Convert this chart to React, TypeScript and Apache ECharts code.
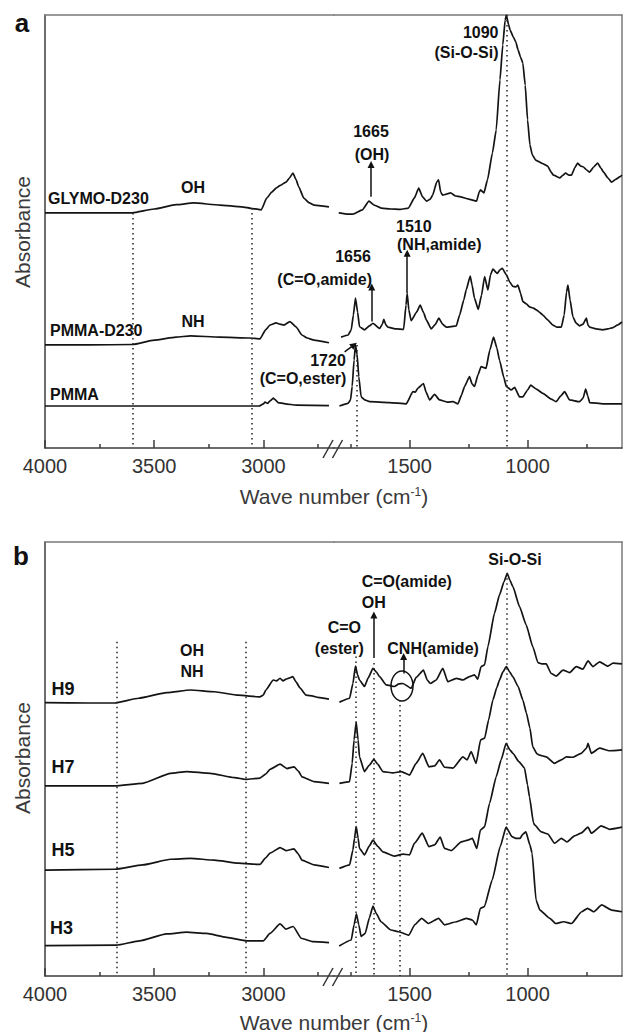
import React, { useEffect, useRef } from 'react';
import * as echarts from 'echarts';

type P = [number, number];

// ---------- Panel a (absorbance, arbitrary units 0-100, spectra offset) ----------
const glymoLeft: P[] = [[4000,54.3],[3800,54.3],[3600,54.3],[3500,55.2],[3400,56.2],[3320,56.6],[3200,56.1],[3100,55.7],[3050,55.3],[3010,55.0],[2985,57.7],[2962,59.1],[2942,60.0],[2925,60.6],[2897,61.4],[2880,62.4],[2865,63.5],[2850,61.9],[2840,60.5],[2815,57.7],[2790,56.6],[2768,56.1],[2700,55.7]];
const glymoRight: P[] = [[1800,54.3],[1760,54.0],[1740,54.0],[1700,55.0],[1672,57.0],[1650,56.1],[1620,55.4],[1580,55.2],[1540,55.1],[1505,55.4],[1480,57.7],[1461,60.0],[1445,58.0],[1428,57.0],[1412,57.5],[1402,58.4],[1385,61.4],[1377,61.9],[1368,59.1],[1360,58.4],[1340,58.7],[1326,58.9],[1305,58.2],[1284,58.0],[1250,57.5],[1216,57.0],[1205,59.1],[1199,59.6],[1185,58.9],[1170,61.9],[1149,68.1],[1133,73.4],[1117,85.0],[1105,93.1],[1095,98.8],[1090,100],[1080,97.7],[1074,96.5],[1060,94.9],[1050,93.8],[1040,91.9],[1030,90.3],[1020,88.9],[1010,83.8],[1000,75.8],[990,70.0],[980,67.7],[966,66.5],[950,66.1],[941,65.8],[915,65.1],[900,63.7],[890,63.0],[864,62.4],[850,63.0],[839,63.5],[825,63.0],[814,63.0],[800,64.7],[788,65.8],[775,65.1],[763,64.9],[750,64.2],[737,63.7],[720,64.9],[703,65.8],[690,64.7],[678,63.7],[660,62.4],[644,61.4],[625,62.1],[610,62.6],[600,63.0]];
const pmmaD230Left: P[] = [[4000,23.8],[3800,23.8],[3600,23.9],[3500,24.9],[3400,25.6],[3334,25.9],[3200,25.6],[3064,25.4],[3016,25.2],[2990,27.3],[2970,28.4],[2942,28.9],[2925,28.6],[2906,28.4],[2879,29.2],[2851,28.0],[2824,26.1],[2800,25.4],[2768,24.9],[2700,24.3]];
const pmmaD230Right: P[] = [[1790,25.6],[1760,26.1],[1747,27.3],[1738,30.7],[1729,34.6],[1720,31.4],[1712,28.0],[1691,27.3],[1670,28.2],[1655,28.8],[1627,27.6],[1615,28.6],[1609,29.7],[1600,28.4],[1592,27.9],[1556,27.5],[1525,27.4],[1515,33.0],[1510,35.7],[1503,31.9],[1493,29.4],[1470,31.4],[1455,33.0],[1440,31.2],[1429,29.6],[1408,27.5],[1390,28.6],[1376,30.0],[1360,28.6],[1345,27.9],[1302,28.2],[1288,30.7],[1270,34.2],[1260,36.5],[1243,39.7],[1235,37.6],[1225,34.6],[1209,32.0],[1195,35.3],[1182,39.6],[1168,36.5],[1157,40.0],[1147,41.3],[1128,40.3],[1118,41.1],[1107,41.5],[1090,40.0],[1075,38.3],[1062,37.3],[1050,37.2],[1041,37.6],[1030,35.8],[1020,33.8],[1005,33.3],[992,32.6],[975,32.3],[963,31.9],[950,31.4],[935,30.7],[915,29.6],[893,28.4],[875,27.9],[857,27.9],[845,30.7],[835,36.0],[829,37.6],[820,34.2],[808,30.3],[795,28.9],[780,28.2],[765,28.6],[751,30.0],[744,28.4],[737,27.9],[710,27.5],[681,27.3],[660,27.5],[638,27.8],[620,28.4],[600,29.1]];
const pmmaLeft: P[] = [[4000,9.7],[3500,9.7],[3020,9.7],[3000,10.2],[2993,10.6],[2980,10.3],[2970,10.9],[2955,11.5],[2945,11.1],[2933,10.5],[2900,10.2],[2850,9.9],[2700,9.8]];
const pmmaRight: P[] = [[1797,9.7],[1761,10.3],[1750,11.1],[1743,14.2],[1735,20.3],[1729,23.8],[1722,21.5],[1715,16.5],[1705,11.8],[1690,11.1],[1669,10.7],[1585,10.5],[1514,10.2],[1486,13.0],[1475,12.9],[1465,13.8],[1441,14.9],[1430,12.9],[1415,11.1],[1394,12.4],[1373,11.1],[1340,10.6],[1316,10.7],[1295,10.2],[1280,12.2],[1267,14.2],[1246,16.5],[1235,14.8],[1225,14.2],[1210,16.9],[1197,18.8],[1176,18.4],[1160,22.6],[1144,25.6],[1130,23.1],[1119,20.3],[1100,16.2],[1090,14.2],[1069,13.4],[1055,14.0],[1034,11.8],[1020,11.8],[1000,13.4],[987,14.5],[963,13.6],[935,12.6],[900,11.3],[879,10.7],[860,12.0],[843,13.0],[822,11.1],[780,10.7],[765,11.5],[754,13.6],[745,12.0],[737,10.5],[681,10.2],[600,10.2]];

// ---------- Panel b ----------
const h9Left: P[] = [[4000,63.0],[3800,62.9],[3681,62.9],[3571,64.0],[3443,65.3],[3334,65.9],[3225,65.5],[3115,64.7],[3016,64.3],[3001,64.7],[2989,65.9],[2955,68.2],[2940,68.0],[2924,68.6],[2910,68.0],[2897,68.4],[2880,68.7],[2866,69.0],[2850,67.7],[2833,66.4],[2805,64.7],[2773,64.5],[2751,64.2],[2700,63.8]];
const h9Right: P[] = [[1797,63.1],[1754,64.0],[1740,67.4],[1729,71.4],[1720,69.4],[1712,68.2],[1691,66.7],[1675,68.7],[1655,70.9],[1640,70.0],[1627,69.0],[1599,67.1],[1564,66.7],[1545,67.3],[1528,67.4],[1493,66.3],[1472,68.8],[1441,70.5],[1425,68.2],[1412,67.4],[1387,68.2],[1359,70.9],[1338,67.8],[1302,68.6],[1274,68.2],[1246,69.0],[1225,69.4],[1211,68.4],[1197,71.3],[1182,71.7],[1168,75.9],[1140,83.6],[1119,87.8],[1100,90.8],[1086,92.8],[1075,91.2],[1062,89.7],[1034,85.1],[1006,80.9],[978,75.9],[956,72.2],[940,71.9],[921,71.9],[900,69.7],[879,69.1],[850,70.5],[822,69.9],[794,71.3],[766,70.7],[744,72.6],[723,71.3],[695,72.4],[660,71.4],[638,72.1],[600,71.9]];
const h7Left: P[] = [[4000,43.8],[3680,43.8],[3553,44.4],[3425,46.7],[3352,47.1],[3243,46.7],[3133,45.7],[3080,45.3],[3016,45.6],[2990,46.5],[2970,47.6],[2924,48.8],[2892,47.8],[2860,48.2],[2840,47.2],[2824,45.9],[2768,44.8],[2700,44.4]];
const h7Right: P[] = [[1797,44.4],[1754,44.8],[1743,49.0],[1735,54.4],[1726,58.5],[1718,54.4],[1712,50.5],[1691,47.1],[1670,48.6],[1651,49.9],[1635,48.8],[1613,47.1],[1571,46.8],[1535,47.1],[1500,46.3],[1472,49.0],[1444,51.3],[1418,48.2],[1394,48.4],[1373,49.8],[1352,48.1],[1316,47.9],[1274,50.5],[1256,49.8],[1239,51.7],[1218,49.0],[1199,54.4],[1182,54.8],[1165,59.0],[1147,63.6],[1130,66.5],[1119,68.2],[1105,70.0],[1090,71.3],[1075,70.0],[1062,68.9],[1040,66.7],[1020,63.6],[1005,60.6],[990,57.1],[978,52.8],[960,51.2],[949,50.9],[921,50.5],[886,49.0],[857,49.8],[836,50.5],[808,50.4],[773,51.3],[750,52.5],[744,53.6],[730,51.3],[695,52.5],[653,51.9],[600,52.1]];
const h5Left: P[] = [[4000,24.4],[3681,24.6],[3553,25.6],[3425,26.9],[3334,27.1],[3225,26.7],[3115,26.0],[3016,25.7],[2990,27.2],[2970,28.3],[2924,29.6],[2897,28.9],[2860,29.3],[2840,28.1],[2824,26.7],[2768,25.6],[2700,25.0]];
const h5Right: P[] = [[1797,24.8],[1754,25.6],[1740,29.0],[1733,31.8],[1726,34.4],[1718,31.8],[1712,29.4],[1691,27.9],[1670,30.0],[1655,31.3],[1635,29.9],[1613,28.6],[1564,27.6],[1528,28.1],[1500,27.9],[1479,30.6],[1446,32.9],[1418,29.8],[1394,30.2],[1370,32.0],[1352,29.4],[1323,28.9],[1281,30.9],[1253,31.3],[1234,31.7],[1215,29.4],[1200,33.6],[1182,34.4],[1161,39.8],[1133,45.9],[1112,49.8],[1091,53.6],[1075,52.1],[1062,51.3],[1037,49.4],[1013,47.9],[1000,44.0],[992,41.3],[975,35.3],[970,34.8],[942,33.2],[914,32.7],[886,30.6],[857,31.7],[833,30.9],[801,32.3],[773,32.9],[744,34.3],[730,32.9],[688,34.6],[653,33.8],[600,34.3]];
const h3Left: P[] = [[4000,7.0],[3673,7.1],[3567,8.1],[3444,9.7],[3352,10.1],[3261,9.8],[3169,8.9],[3077,8.1],[3001,8.1],[2970,9.8],[2924,12.0],[2897,10.8],[2864,11.4],[2827,8.7],[2773,7.9],[2700,7.7]];
const h3Right: P[] = [[1798,6.9],[1747,8.3],[1735,11.8],[1725,14.3],[1715,11.8],[1705,9.1],[1688,9.8],[1670,13.4],[1655,16.1],[1640,14.3],[1621,12.5],[1579,10.6],[1545,10.2],[1503,9.4],[1478,11.8],[1449,13.3],[1420,12.1],[1377,13.3],[1352,11.8],[1301,12.5],[1260,13.3],[1234,12.9],[1217,11.8],[1200,15.6],[1183,16.0],[1150,22.1],[1116,29.8],[1091,34.3],[1066,32.1],[1050,31.7],[1032,31.7],[1020,32.7],[1007,33.2],[990,30.2],[981,28.3],[964,17.5],[948,15.2],[906,13.3],[881,12.1],[847,12.5],[814,12.1],[771,14.8],[746,15.6],[720,14.8],[686,16.4],[644,15.2],[600,14.8]];

// dotted guide lines: [wavenumber, top value]
const dottedLeftA: P[] = [[3600, 54.3], [3055, 55.4]];
const dottedRightA: P[] = [[1090, 100], [1722, 23.8]];
const dottedLeftB: P[] = [[3670, 77], [3080, 77]];
const dottedRightB: P[] = [[1727, 73.6], [1653, 72.1], [1542, 63.6], [1088, 92.8]];
// arrows: [w1, v1, w2, v2] (from -> to)
const arrowsA: number[][] = [[1663, 58, 1663, 65.5], [1660, 29.2, 1660, 37.2], [1510, 35.8, 1510, 45], [1775, 22.2, 1735, 23.8]];
const arrowsB: number[][] = [[1651, 73.3, 1651, 83.2], [1525, 69.7, 1525, 73.6]];

// axes
const leftRange: P = [2677, 4000];
const rightRange: P = [600, 1820];
const leftMajor = [4000, 3500, 3000];
const leftMinor = [3750, 3250, 2750];
const rightMajor = [1500, 1000];
const rightMinor = [1750, 1250, 750];

const FONT = '"Liberation Sans", Arial, Helvetica, sans-serif';
const LINE = '#141414';
const AXIS = '#3c3c3c';
const FRAME = '#7a7a7a';

export default function App() {
  const ref = useRef<HTMLDivElement>(null);
  useEffect(() => {
    if (!ref.current) return;
    const chart = echarts.init(ref.current, undefined, { renderer: 'svg' });

    const grids = [
      { left: 45, top: 15, width: 289, height: 433 },
      { left: 334, top: 15, width: 288, height: 433 },
      { left: 45, top: 542, width: 289, height: 434 },
      { left: 334, top: 542, width: 288, height: 434 },
    ];
    const xAxes: any[] = [];
    grids.forEach((_, gi) => {
      const isLeft = gi % 2 === 0;
      const range = isLeft ? leftRange : rightRange;
      const major = isLeft ? leftMajor : rightMajor;
      const minor = isLeft ? leftMinor : rightMinor;
      const base = { type: 'value', gridIndex: gi, min: range[0], max: range[1], inverse: true, splitLine: { show: false } };
      xAxes.push({
        ...base, position: 'bottom',
        axisLine: { show: true, onZero: false, lineStyle: { color: AXIS, width: 1.5 } },
        axisTick: { show: true, inside: true, length: 8, customValues: major, lineStyle: { color: AXIS, width: 1.5 } },
        axisLabel: { show: true, customValues: major, margin: 8, fontSize: 20, fontFamily: FONT, color: '#333', formatter: (v: number) => String(v) },
      });
      xAxes.push({
        ...base, position: 'bottom',
        axisLine: { show: false, onZero: false },
        axisTick: { show: true, inside: true, length: 4, customValues: minor, lineStyle: { color: AXIS, width: 1.5 } },
        axisLabel: { show: false },
      });
      xAxes.push({
        ...base, position: 'top',
        axisLine: { show: true, onZero: false, lineStyle: { color: FRAME, width: 1.5 } },
        axisTick: { show: false }, axisLabel: { show: false },
      });
    });
    const yAxes = grids.map((_, gi) => ({
      type: 'value', gridIndex: gi, min: 0, max: 100,
      position: gi % 2 === 0 ? 'left' : 'right',
      axisLine: { show: true, onZero: false, lineStyle: { color: gi % 2 === 0 ? AXIS : FRAME, width: 1.5 } },
      axisTick: { show: false }, axisLabel: { show: false }, splitLine: { show: false },
    }));

    const dotted = (items: P[]) => ({
      silent: true, symbol: ['none', 'none'], label: { show: false }, emphasis: { disabled: true },
      lineStyle: { color: '#222', width: 1.5, type: [1.5, 3.5] },
      data: items.map(([w, t]) => [{ coord: [w, t] }, { coord: [w, 0] }]),
    });
    const arrows = (items: number[][]) => ({
      silent: true, symbol: ['none', 'triangle'], symbolSize: 7, symbolOffset: 0,
      label: { show: false }, emphasis: { disabled: true },
      lineStyle: { color: '#111', width: 1.5, type: 'solid' },
      itemStyle: { color: '#111' },
      data: items.map(([a, b, c, d]) => [{ coord: [a, b] }, { coord: [c, d] }]),
    });
    const line = (data: P[], gi: number, markLine?: any) => ({
      type: 'line', xAxisIndex: gi * 3, yAxisIndex: gi, data, showSymbol: false, symbol: 'none',
      smooth: 0.15, smoothMonotone: 'x', silent: true,
      lineStyle: { color: LINE, width: 1.7 }, emphasis: { disabled: true },
      ...(markLine ? { markLine } : {}),
    });

    const series = [
      line(glymoLeft, 0, dotted(dottedLeftA)),
      line(pmmaD230Left, 0),
      line(pmmaLeft, 0),
      line(glymoRight, 1, dotted(dottedRightA)),
      line(pmmaD230Right, 1, arrows(arrowsA)),
      line(pmmaRight, 1),
      line(h9Left, 2, dotted(dottedLeftB)),
      line(h7Left, 2),
      line(h5Left, 2),
      line(h3Left, 2),
      line(h9Right, 3, dotted(dottedRightB)),
      line(h7Right, 3, arrows(arrowsB)),
      line(h5Right, 3),
      line(h3Right, 3),
    ];

    const txt = (text: string, x: number, y: number, align = 'left', size = 16, weight: any = 'bold', color = '#111') => ({
      type: 'text', x, y, silent: true,
      style: { text, fill: color, fontSize: size, fontWeight: weight, fontFamily: FONT, align, verticalAlign: 'middle' },
    });
    const brk = (y: number) => [
      { type: 'line', silent: true, shape: { x1: 323, y1: y + 10, x2: 333, y2: y - 8 }, style: { stroke: '#333', lineWidth: 1.5 } },
      { type: 'line', silent: true, shape: { x1: 332.5, y1: y + 10, x2: 342.5, y2: y - 8 }, style: { stroke: '#333', lineWidth: 1.5 } },
    ];
    const xTitle = (y: number) => ({
      type: 'text', x: 334, y, silent: true,
      style: {
        text: '{m|Wave number (cm}{s|-1}{m|)}', align: 'center', verticalAlign: 'middle',
        rich: {
          m: { fontSize: 21, fontFamily: FONT, fill: '#3a3a3a' },
          s: { fontSize: 12, fontFamily: FONT, fill: '#3a3a3a', verticalAlign: 'top' },
        },
      },
    });
    const yTitle = (y: number) => ({
      type: 'text', x: 22, y, rotation: Math.PI / 2, silent: true,
      style: { text: 'Absorbance', fontSize: 21, fontFamily: FONT, fill: '#3a3a3a', align: 'center', verticalAlign: 'middle' },
    });

    const graphic = [
      txt('a', 22, 22.7, 'center', 26),
      txt('b', 21, 556, 'center', 26),
      yTitle(232), yTitle(758), xTitle(496), xTitle(1022),
      ...brk(448), ...brk(976),
      txt('GLYMO-D230', 48, 198),
      txt('OH', 193, 187.5, 'center'),
      txt('PMMA-D230', 50, 330),
      txt('NH', 193, 321, 'center'),
      txt('PMMA', 50, 394),
      txt('1090', 498.5, 32.5, 'right'),
      txt('(Si-O-Si)', 498.5, 52.5, 'right'),
      txt('1665', 371, 131.7, 'center'),
      txt('(OH)', 372, 154, 'center'),
      txt('1510', 396, 226),
      txt('(NH,amide)', 397, 244.5),
      txt('1656', 353, 256.5, 'center'),
      txt('(C=O,amide)', 324.7, 279, 'center'),
      txt('1720', 328, 360, 'center'),
      txt('(C=O,ester)', 303, 378, 'center'),
      txt('H9', 51.6, 688.5, 'left', 18),
      txt('H7', 51.6, 766.5, 'left', 18),
      txt('H5', 51.6, 850, 'left', 18),
      txt('H3', 50, 928.3, 'left', 18),
      txt('OH', 192, 650.3, 'center'),
      txt('NH', 192, 671.7, 'center'),
      txt('C=O', 344.3, 627.5, 'center'),
      txt('(ester)', 339.3, 648.5, 'center'),
      txt('C=O(amide)', 361.7, 581.5),
      txt('OH', 361.7, 602.2),
      txt('CNH(amide)', 387.3, 648.8),
      txt('Si-O-Si', 515, 559.2, 'center'),
      { type: 'ellipse', silent: true, shape: { cx: 402, cy: 686, rx: 11, ry: 15 }, style: { fill: 'none', stroke: '#111', lineWidth: 1.5 } },
    ];

    chart.setOption({
      animation: false,
      backgroundColor: '#fff',
      grid: grids,
      xAxis: xAxes,
      yAxis: yAxes,
      series,
      graphic,
    });
    return () => chart.dispose();
  }, []);
  return <div ref={ref} style={{ position: 'absolute', left: 0, top: 0, width: 623, height: 1032 }} />;
}
